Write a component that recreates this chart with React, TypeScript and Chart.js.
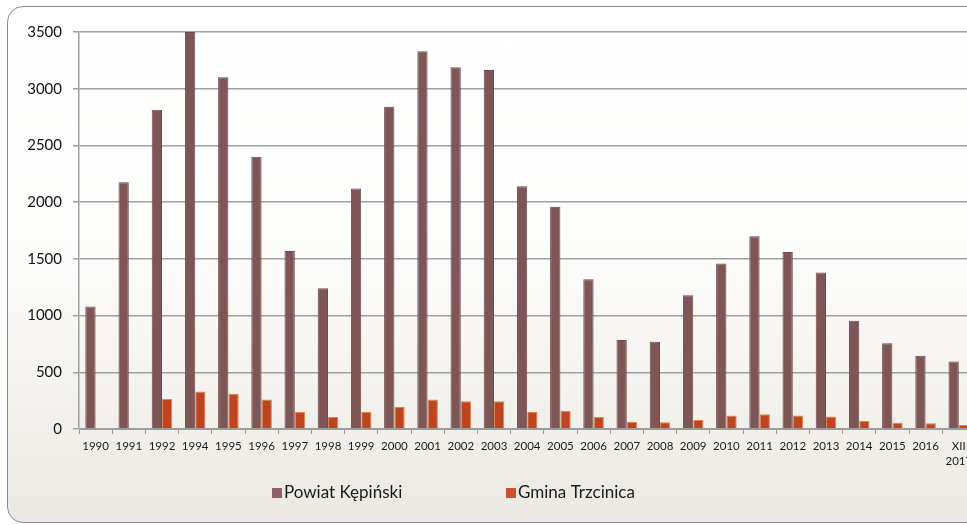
import React, { useEffect, useRef } from 'react';
import { Chart, registerables } from 'chart.js';

Chart.register(...registerables);

const categories: (string | string[])[] = [
  '1990', '1991', '1992', '1994', '1995', '1996', '1997', '1998', '1999',
  '2000', '2001', '2002', '2003', '2004', '2005', '2006', '2007', '2008',
  '2009', '2010', '2011', '2012', '2013', '2014', '2015', '2016', ['XII', '2017'],
];

const powiatKepinski = [
  1080, 2175, 2815, 3500, 3100, 2400, 1570, 1240, 2120,
  2840, 3330, 3190, 3165, 2140, 1960, 1320, 785, 770,
  1180, 1460, 1700, 1560, 1380, 955, 755, 645, 595,
];

const gminaTrzcinica = [
  null, null, 265, 330, 310, 260, 150, 105, 150,
  195, 260, 245, 245, 150, 160, 105, 65, 60,
  80, 120, 130, 120, 110, 70, 55, 50, 35,
];

const seriesNames = ['Powiat Kępiński', 'Gmina Trzcinica'];
const yMin = 0;
const yMax = 3500;
const yStep = 500;

const FONT = 'Lato, "Open Sans", sans-serif';

const panelLegend = {
  id: 'panelLegend',
  afterDraw(chart: any) {
    const { ctx, chartArea } = chart;
    const offsets = [193, 427];
    const cy = chartArea.bottom + 64;
    ctx.save();
    ctx.font = `17px ${FONT}`;
    ctx.textBaseline = 'middle';
    ctx.textAlign = 'left';
    chart.data.datasets.forEach((ds: any, i: number) => {
      const x = chartArea.left + offsets[i];
      ctx.fillStyle = ds.legendColor;
      ctx.fillRect(x, cy - 5, 10, 10);
      ctx.fillStyle = '#1a1a1a';
      ctx.fillText(ds.label, x + 12, cy);
    });
    ctx.restore();
  },
};

export default function App() {
  const ref = useRef<HTMLCanvasElement | null>(null);

  useEffect(() => {
    if (!ref.current) return;
    const chart = new Chart(ref.current, {
      type: 'bar',
      data: {
        labels: categories,
        datasets: [
          {
            label: seriesNames[0],
            data: powiatKepinski,
            backgroundColor: '#7E5656',
            borderColor: '#6E4A4A',
            borderWidth: 1,
            categoryPercentage: 0.62,
            barPercentage: 1.0,
            legendColor: '#8A6464',
          } as any,
          {
            label: seriesNames[1],
            data: gminaTrzcinica,
            backgroundColor: '#BE4520',
            borderColor: '#DB8650',
            borderWidth: 1,
            categoryPercentage: 0.62,
            barPercentage: 1.0,
            legendColor: '#C9522A',
          } as any,
        ],
      },
      options: {
        animation: false,
        responsive: false,
        devicePixelRatio: 1,
        layout: { padding: { top: 25, right: 30.6, left: 0, bottom: 43 } },
        plugins: {
          legend: { display: false },
          tooltip: { enabled: false },
        },
        scales: {
          x: {
            offset: true,
            grid: {
              display: true,
              drawOnChartArea: false,
              drawTicks: true,
              tickLength: 5,
              offset: true,
              color: '#9a9a9a',
              lineWidth: 1,
            },
            border: { display: true, color: '#9a9a9a' },
            ticks: {
              font: { family: FONT, size: 11.5, lineHeight: 1.3 },
              color: '#1a1a1a',
              padding: 5,
              maxRotation: 0,
              autoSkip: false,
            },
            afterFit: (s: any) => {
              s.height = 50;
            },
          },
          y: {
            min: yMin,
            max: yMax,
            ticks: {
              stepSize: yStep,
              font: { family: FONT, size: 15 },
              color: '#111111',
              padding: 11,
              callback: (v: any) => String(v),
            },
            grid: { color: '#a0a0a0', lineWidth: 1.5, tickLength: 6, drawTicks: true },
            border: { display: true, color: '#a0a0a0', width: 1.5 },
            afterFit: (s: any) => {
              s.width = 71;
            },
          },
        },
      },
      plugins: [panelLegend],
    });
    return () => chart.destroy();
  }, []);

  return (
    <div
      style={{
        position: 'fixed',
        left: 0,
        top: 0,
        width: 967,
        height: 525,
        overflow: 'hidden',
        background: '#ffffff',
      }}
    >
      <div
        style={{
          position: 'absolute',
          left: 7,
          top: 6,
          width: 1000,
          height: 517,
          boxSizing: 'border-box',
          border: '1px solid #8c8c8c',
          borderRadius: 16,
          background:
            'linear-gradient(to bottom, #ffffff 0%, #fdfdfc 45%, #f4f2ee 75%, #ebe8e2 100%)',
          overflow: 'hidden',
        }}
      >
        <canvas
          ref={ref}
          width={998}
          height={515}
          style={{ position: 'absolute', left: 0, top: 0, width: 998, height: 515 }}
        />
      </div>
    </div>
  );
}
